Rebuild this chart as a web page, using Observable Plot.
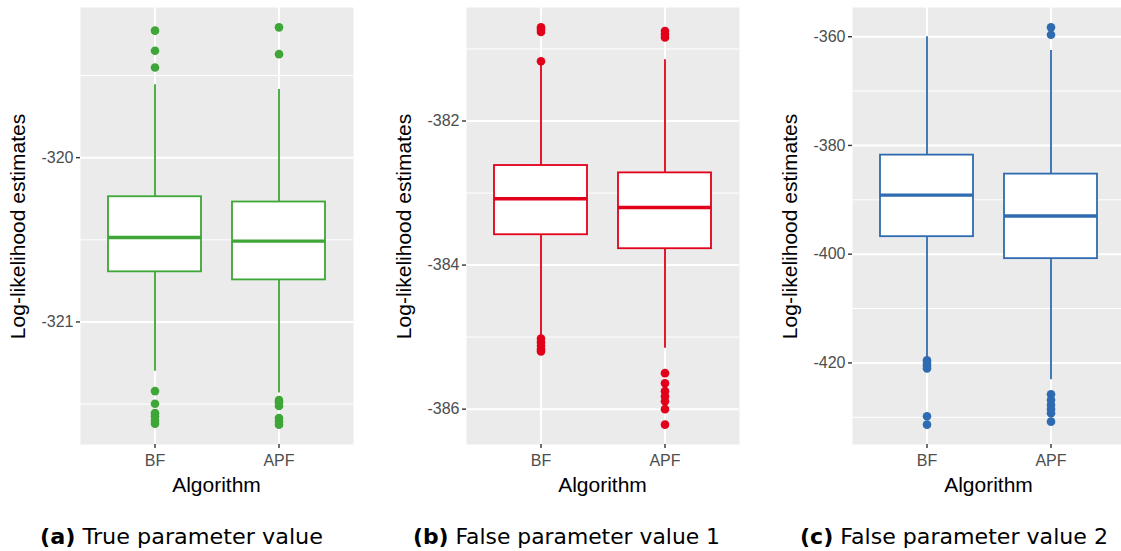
<!DOCTYPE html>
<html>
<head>
<meta charset="utf-8">
<script src="https://cdn.jsdelivr.net/npm/d3@7"></script>
<script src="https://cdn.jsdelivr.net/npm/@observablehq/plot@0.6"></script>
<style>
  html, body { margin: 0; padding: 0; background: #fff; overflow: hidden; }
  #root { position: relative; width: 1121px; height: 551px; overflow: hidden; background: #fff; }
  .panel { position: absolute; top: 0; }
  #captions { position: absolute; left: 0; top: 500px; }
</style>
</head>
<body>
<div id="root"></div>
<script>
// ---------- data ----------
const algorithms = ["BF", "APF"];
const yTitle = "Log-likelihood estimates";
const xTitle = "Algorithm";
const captionLetters = ["(a)", "(b)", "(c)"];
const captionTexts = ["True parameter value", "False parameter value 1", "False parameter value 2"];

// (a) True parameter value  [BF, APF]
const trueLower  = [-321.300, -321.433];
const trueQ1     = [-320.695, -320.744];
const trueMedian = [-320.486, -320.508];
const trueQ3     = [-320.238, -320.270];
const trueUpper  = [-319.557, -319.585];
const trueOutBF  = [-319.227, -319.349, -319.451, -321.421, -321.498, -321.555, -321.575, -321.600, -321.620];
const trueOutAPF = [-319.207, -319.370, -321.476, -321.490, -321.512, -321.585, -321.605, -321.625];
const trueMajor  = [-321, -320];
const trueMinor  = [-321.5, -320.5, -319.5];

// (b) False parameter value 1
const f1Lower  = [-385.010, -385.153];
const f1Q1     = [-383.579, -383.773];
const f1Median = [-383.080, -383.200];
const f1Q3     = [-382.618, -382.720];
const f1Upper  = [-381.200, -381.150];
const f1OutBF  = [-380.700, -380.730, -380.765, -381.170, -385.020, -385.070, -385.120, -385.170, -385.200];
const f1OutAPF = [-380.750, -380.800, -380.840, -385.500, -385.640, -385.750, -385.820, -385.890, -386.000, -386.215];
const f1Major  = [-386, -384, -382];
const f1Minor  = [-385, -383, -381];

// (c) False parameter value 2
const f2Lower  = [-419.00, -423.10];
const f2Q1     = [-396.78, -400.82];
const f2Median = [-389.13, -392.98];
const f2Q3     = [-381.78, -385.27];
const f2Upper  = [-360.00, -362.55];
const f2OutBF  = [-419.50, -420.00, -420.50, -421.00, -429.80, -431.35];
const f2OutAPF = [-358.28, -359.64, -425.75, -426.80, -427.70, -428.50, -429.25, -430.80];
const f2Major  = [-420, -400, -380, -360];
const f2Minor  = [-430, -410, -390, -370];

const colors = ["#3DA636", "#E2001A", "#2F6BB0"];

// ---------- drawing ----------
const root = document.getElementById("root");
const PW = 273;           // panel width
const TOP = 7, BOTTOM = 444, H = 500;

function makePanel(cfg) {
  const rows = algorithms.map((a, i) => ({
    alg: a, lower: cfg.lower[i], q1: cfg.q1[i], med: cfg.med[i], q3: cfg.q3[i], upper: cfg.upper[i]
  }));
  const outRows = [
    ...cfg.outBF.map(v => ({alg: "BF", v})),
    ...cfg.outAPF.map(v => ({alg: "APF", v}))
  ];
  const all = [...cfg.lower, ...cfg.upper, ...cfg.outBF, ...cfg.outAPF];
  const lo = d3.min(all), hi = d3.max(all), pad = (hi - lo) * 0.05;
  const ml = cfg.ml;
  const svgW = cfg.svgW;
  const mr = Math.max(0, svgW - ml - PW);

  const svg = Plot.plot({
    width: svgW, height: H,
    marginLeft: ml, marginRight: mr, marginTop: TOP, marginBottom: H - BOTTOM,
    style: {fontFamily: "'Liberation Sans', Arial, sans-serif", background: "transparent", overflow: "visible"},
    x: {type: "band", domain: algorithms, range: [ml, ml + PW], paddingInner: 0.25, paddingOuter: 0.225, align: 0.5},
    y: {domain: [lo - pad, hi + pad]},
    marks: [
      Plot.frame({fill: "#EBEBEB", stroke: null}),
      Plot.ruleY(cfg.minor, {stroke: "white", strokeWidth: 1}),
      Plot.ruleY(cfg.major, {stroke: "white", strokeWidth: 2}),
      Plot.ruleX(algorithms, {stroke: "white", strokeWidth: 2}),
      Plot.ruleX(rows, {x: "alg", y1: "q3", y2: "upper", stroke: cfg.color, strokeWidth: 1.8}),
      Plot.ruleX(rows, {x: "alg", y1: "lower", y2: "q1", stroke: cfg.color, strokeWidth: 1.8}),
      Plot.barY(rows, {x: "alg", y1: "q1", y2: "q3", fill: "white", stroke: cfg.color, strokeWidth: 1.8}),
      Plot.tickY(rows, {x: "alg", y: "med", stroke: cfg.color, strokeWidth: 3.4}),
      Plot.dot(outRows, {x: "alg", y: "v", r: 4.3, fill: cfg.color, stroke: null}),
      Plot.axisY(cfg.major, {tickSize: 4, tickPadding: 3, fontSize: 16, fill: "#4D4D4D", stroke: "#333333", strokeWidth: 1.4, tickFormat: d => String(d), label: null}),
      Plot.axisX({tickSize: 4, tickPadding: 6, fontSize: 16, fill: "#4D4D4D", stroke: "#333333", strokeWidth: 1.4, label: null})
    ]
  });

  const s = d3.select(svg);
  s.append("text")
    .attr("transform", `translate(${ml - 62},${(TOP + BOTTOM) / 2 + 1}) rotate(-90)`)
    .attr("text-anchor", "middle").attr("dy", "0.35em")
    .attr("font-size", 21).attr("fill", "#000")
    .attr("font-family", "'Liberation Sans', Arial, sans-serif")
    .text(yTitle);
  s.append("text")
    .attr("x", ml + PW / 2).attr("y", 485)
    .attr("text-anchor", "middle").attr("dy", "0.35em")
    .attr("font-size", 21).attr("fill", "#000")
    .attr("font-family", "'Liberation Sans', Arial, sans-serif")
    .text(xTitle);

  const div = document.createElement("div");
  div.className = "panel";
  div.style.left = cfg.left + "px";
  div.style.width = svgW + "px";
  div.appendChild(svg);
  root.appendChild(div);
}

makePanel({left: 0, ml: 80, svgW: 370, color: colors[0],
  lower: trueLower, q1: trueQ1, med: trueMedian, q3: trueQ3, upper: trueUpper,
  outBF: trueOutBF, outAPF: trueOutAPF, major: trueMajor, minor: trueMinor});
makePanel({left: 370, ml: 96, svgW: 380, color: colors[1],
  lower: f1Lower, q1: f1Q1, med: f1Median, q3: f1Q3, upper: f1Upper,
  outBF: f1OutBF, outAPF: f1OutAPF, major: f1Major, minor: f1Minor});
makePanel({left: 750, ml: 102, svgW: 371, color: colors[2],
  lower: f2Lower, q1: f2Q1, med: f2Median, q3: f2Q3, upper: f2Upper,
  outBF: f2OutBF, outAPF: f2OutAPF, major: f2Major, minor: f2Minor});

// captions
const capX = [40, 413, 800];
const capLen = [283, 307, 308];
const cap = d3.select(root).append("svg").attr("id", "captions")
  .attr("width", 1121).attr("height", 51);
captionTexts.forEach((t, i) => {
  const txt = cap.append("text")
    .attr("x", capX[i]).attr("y", 44)
    .attr("font-family", "'DejaVu Sans', sans-serif")
    .attr("font-size", 21).attr("fill", "#000")
    .attr("textLength", capLen[i]).attr("lengthAdjust", "spacingAndGlyphs");
  txt.append("tspan").attr("font-weight", "bold").text(captionLetters[i]);
  txt.append("tspan").text(" " + t);
});
</script>
</body>
</html>
